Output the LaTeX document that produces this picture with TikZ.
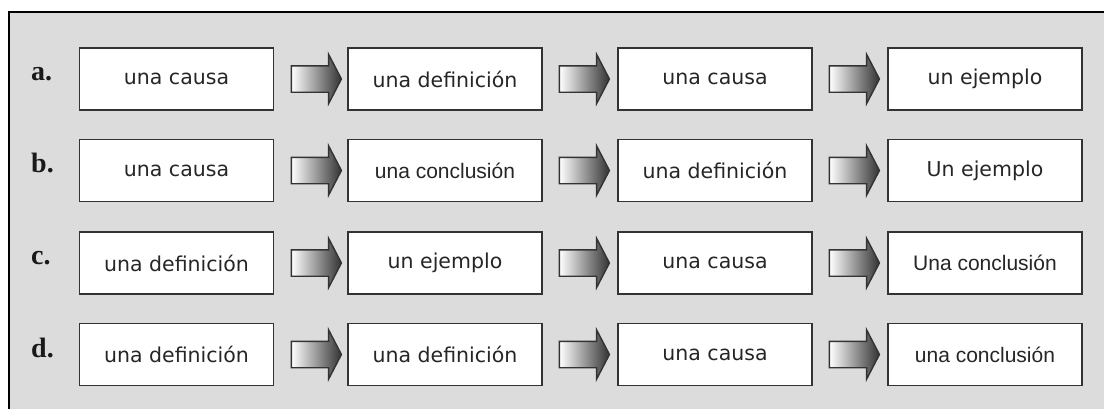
\documentclass[tikz,border=0pt]{standalone}
\usepackage{fontspec}
\setmainfont{Liberation Serif}
\newfontfamily\cajafont{DejaVu Sans}
\newfontfamily\concfont{Liberation Sans}
\usetikzlibrary{shapes.arrows}
\definecolor{fondo}{RGB}{220,220,220}
\definecolor{borde}{RGB}{51,51,51}
\def\conc{\concfont\fontsize{21pt}{24pt}\selectfont}

\begin{document}
\begin{tikzpicture}[x=1pt, y=1pt, caja/.style={draw=borde, line width=1.6pt, fill=white, minimum width=194pt, minimum height=62pt, inner sep=0pt, font=\cajafont\fontsize{20.5pt}{24pt}\selectfont, text=black!85}, flecha/.style={single arrow, draw=borde, line width=1.4pt, left color=white, right color=black!80, minimum height=50pt, inner xsep=0pt, inner ysep=12.5pt, single arrow head extend=11.5pt, single arrow tip angle=125}, letra/.style={anchor=base west, inner sep=0pt, font=\bfseries\fontsize{28pt}{30pt}\selectfont, text=black!90}]
	\useasboundingbox (0,0) rectangle (1104,-408);
	\draw[line width=2pt, fill=fondo] (9,-12) rectangle (1120,-430);
	% fila a
	\draw (31,-80)node[letra](la){a.};
	\draw (176.5,-79)node[caja](a1){una causa};
	\draw (445,-79)node[caja](a2){una definición};
	\draw (715,-79)node[caja](a3){una causa};
	\draw (985,-79)node[caja](a4){un ejemplo};
	\draw (313,-79)node[flecha](fa1){};
	\draw (581,-79)node[flecha](fa2){};
	\draw (851,-79)node[flecha](fa3){};
	% fila b
	\draw (31,-172)node[letra](lb){b.};
	\draw (176.5,-170.5)node[caja](b1){una causa};
	\draw (445,-170.5)node[caja](b2){\conc una conclusión};
	\draw (715,-170.5)node[caja](b3){una definición};
	\draw (985,-170.5)node[caja](b4){Un ejemplo};
	\draw (313,-170.5)node[flecha](fb1){};
	\draw (581,-170.5)node[flecha](fb2){};
	\draw (851,-170.5)node[flecha](fb3){};
	% fila c
	\draw (31,-264)node[letra](lc){c.};
	\draw (176.5,-263)node[caja](c1){una definición};
	\draw (445,-263)node[caja](c2){un ejemplo};
	\draw (715,-263)node[caja](c3){una causa};
	\draw (985,-263)node[caja](c4){\conc Una conclusión};
	\draw (313,-263)node[flecha](fc1){};
	\draw (581,-263)node[flecha](fc2){};
	\draw (851,-263)node[flecha](fc3){};
	% fila d
	\draw (31,-357)node[letra](ld){d.};
	\draw (176.5,-354.5)node[caja](d1){una definición};
	\draw (445,-354.5)node[caja](d2){una definición};
	\draw (715,-354.5)node[caja](d3){una causa};
	\draw (985,-354.5)node[caja](d4){\conc una conclusión};
	\draw (313,-354.5)node[flecha](fd1){};
	\draw (581,-354.5)node[flecha](fd2){};
	\draw (851,-354.5)node[flecha](fd3){};
\end{tikzpicture}
\end{document}
